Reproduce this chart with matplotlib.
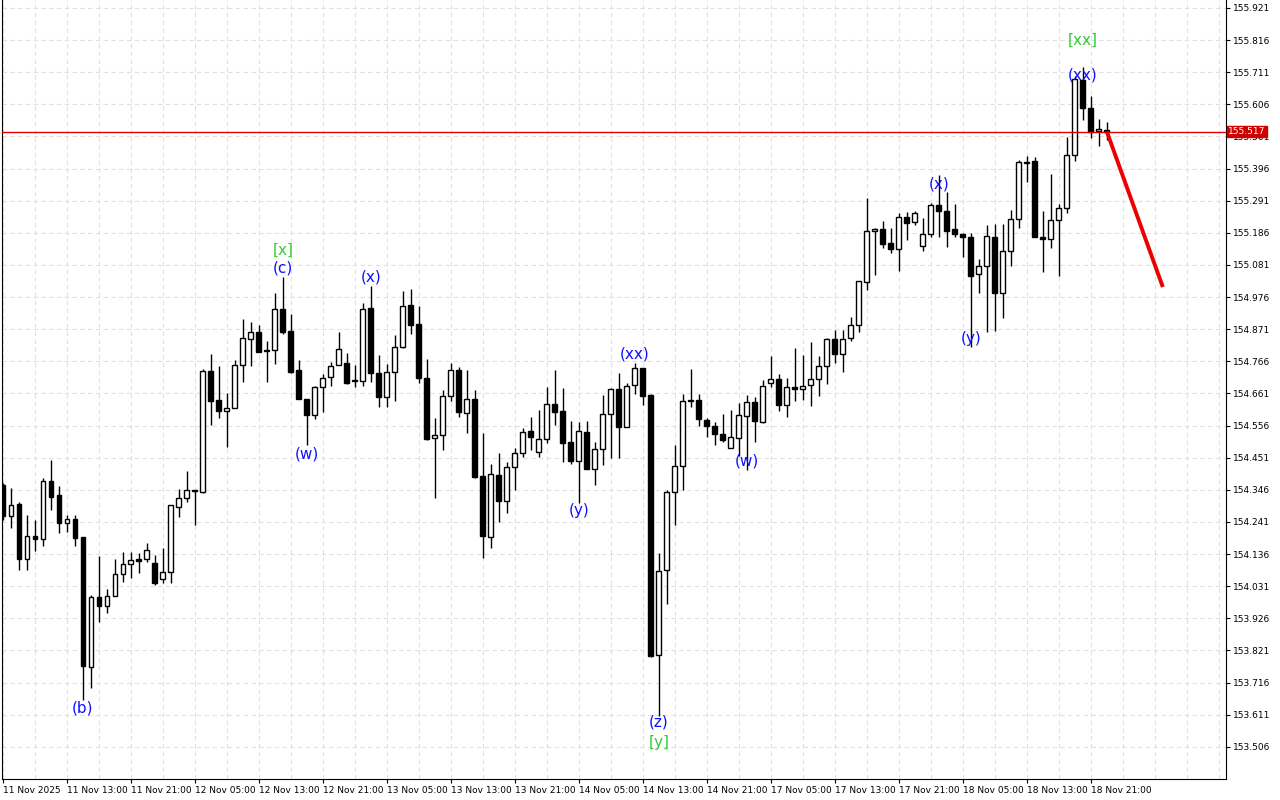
import matplotlib
matplotlib.use("Agg")
import matplotlib.pyplot as plt
import numpy as np

opens = [154.362,154.261,154.300,154.120,154.195,154.186,154.375,154.329,154.238,154.251,
 154.192,153.767,153.996,153.967,153.999,154.071,154.104,154.120,154.120,154.107,
 154.055,154.078,154.290,154.320,154.346,154.339,154.735,154.640,154.604,154.614,
 154.754,154.839,154.862,154.803,154.803,154.937,154.865,154.738,154.643,154.591,
 154.682,154.715,154.754,154.761,154.705,154.702,154.940,154.728,154.650,154.731,
 154.813,154.950,154.888,154.712,154.516,154.525,154.653,154.738,154.597,154.643,
 154.391,154.192,154.395,154.310,154.421,154.467,154.539,154.470,154.512,154.627,
 154.604,154.503,154.440,154.535,154.414,154.480,154.594,154.676,154.552,154.689,
 154.744,154.656,153.806,154.084,154.339,154.424,154.640,154.640,154.574,154.555,
 154.529,154.483,154.516,154.588,154.633,154.568,154.695,154.708,154.623,154.682,
 154.676,154.689,154.708,154.751,154.839,154.790,154.842,154.885,155.025,155.192,
 155.199,155.153,155.133,155.238,155.222,155.143,155.182,155.277,155.257,155.199,
 155.182,155.172,155.052,155.078,155.172,154.990,155.127,155.231,155.418,155.421,
 155.172,155.166,155.228,155.267,155.440,155.686,155.594,155.519,155.522]
highs = [154.369,154.352,154.306,154.264,154.248,154.385,154.444,154.359,154.264,154.264,
 154.192,154.003,154.130,154.022,154.120,154.143,154.143,154.140,154.172,154.133,
 154.156,154.297,154.349,154.408,154.346,154.741,154.790,154.751,154.663,154.771,
 154.904,154.895,154.885,154.833,154.990,155.042,154.921,154.771,154.643,154.686,
 154.725,154.764,154.862,154.793,154.754,154.957,155.012,154.787,154.757,154.852,
 154.996,155.003,154.947,154.774,154.581,154.672,154.761,154.748,154.738,154.672,
 154.532,154.431,154.467,154.437,154.483,154.548,154.584,154.607,154.682,154.738,
 154.679,154.571,154.568,154.571,154.503,154.656,154.679,154.728,154.695,154.761,
 154.744,154.659,154.140,154.346,154.493,154.659,154.741,154.659,154.581,154.568,
 154.594,154.607,154.630,154.656,154.650,154.705,154.784,154.725,154.712,154.810,
 154.787,154.829,154.784,154.842,154.869,154.869,154.911,155.029,155.300,155.202,
 155.225,155.202,155.251,155.254,155.257,155.235,155.284,155.375,155.320,155.280,
 155.186,155.186,155.101,155.212,155.215,155.215,155.261,155.424,155.437,155.434,
 155.257,155.378,155.280,155.499,155.699,155.728,155.633,155.558,155.548]
lows = [154.248,154.222,154.084,154.084,154.146,154.163,154.280,154.205,154.208,154.163,
 153.659,153.699,153.914,153.944,153.999,154.045,154.058,154.074,154.110,154.035,
 154.042,154.042,154.257,154.306,154.231,154.336,154.558,154.581,154.486,154.614,
 154.699,154.751,154.797,154.699,154.757,154.856,154.728,154.643,154.493,154.578,
 154.601,154.686,154.754,154.692,154.682,154.686,154.699,154.617,154.617,154.637,
 154.810,154.856,154.695,154.509,154.320,154.476,154.637,154.584,154.532,154.385,
 154.123,154.156,154.241,154.271,154.346,154.454,154.476,154.454,154.499,154.558,
 154.437,154.431,154.303,154.414,154.362,154.427,154.450,154.450,154.552,154.659,
 154.623,153.800,153.607,153.973,154.231,154.346,154.617,154.555,154.519,154.493,
 154.503,154.483,154.457,154.411,154.503,154.565,154.682,154.604,154.584,154.637,
 154.640,154.620,154.653,154.692,154.761,154.731,154.833,154.862,154.999,155.048,
 155.137,155.120,155.061,155.163,155.212,155.127,155.172,155.172,155.140,155.172,
 155.107,154.813,154.990,154.862,154.865,154.908,155.078,155.202,155.352,155.172,
 155.058,155.137,155.045,155.251,155.421,155.555,155.496,155.470,155.489]
closes = [154.261,154.297,154.120,154.195,154.186,154.375,154.323,154.238,154.251,154.189,
 153.771,153.996,153.967,153.999,154.071,154.104,154.117,154.114,154.150,154.042,
 154.078,154.297,154.320,154.346,154.342,154.735,154.637,154.604,154.614,154.754,
 154.842,154.862,154.797,154.800,154.937,154.862,154.731,154.643,154.591,154.682,
 154.712,154.751,154.806,154.695,154.702,154.937,154.728,154.650,154.731,154.813,
 154.947,154.885,154.712,154.512,154.525,154.653,154.738,154.601,154.643,154.388,
 154.195,154.398,154.310,154.421,154.467,154.535,154.519,154.512,154.627,154.601,
 154.499,154.440,154.539,154.414,154.480,154.594,154.676,154.552,154.686,154.744,
 154.653,153.803,154.081,154.339,154.424,154.637,154.637,154.578,154.555,154.529,
 154.509,154.519,154.591,154.633,154.571,154.686,154.708,154.623,154.682,154.676,
 154.686,154.708,154.751,154.839,154.790,154.839,154.885,155.029,155.192,155.199,
 155.150,155.133,155.238,155.218,155.251,155.182,155.277,155.257,155.192,155.182,
 155.172,155.045,155.078,155.176,154.990,155.127,155.231,155.418,155.414,155.172,
 155.166,155.228,155.267,155.440,155.689,155.594,155.516,155.525,155.517]

xtick_labels = ["11 Nov 2025","11 Nov 13:00","11 Nov 21:00","12 Nov 05:00","12 Nov 13:00",
 "12 Nov 21:00","13 Nov 05:00","13 Nov 13:00","13 Nov 21:00","14 Nov 05:00","14 Nov 13:00",
 "14 Nov 21:00","17 Nov 05:00","17 Nov 13:00","17 Nov 21:00","18 Nov 05:00","18 Nov 13:00",
 "18 Nov 21:00"]
ytick_values = [153.506,153.611,153.716,153.821,153.926,154.031,154.136,154.241,154.346,
 154.451,154.556,154.661,154.766,154.871,154.976,155.081,155.186,155.291,155.396,155.501,
 155.606,155.711,155.816,155.921]

wave_labels = [("(b)",10,153.633,"blue"),("[x]",35,155.130,"green"),("(c)",35,155.071,"blue"),
 ("(w)",38,154.463,"blue"),("(x)",46,155.042,"blue"),("(y)",72,154.277,"blue"),
 ("(xx)",79,154.790,"blue"),("(z)",82,153.588,"blue"),("[y]",82,153.519,"green"),
 ("(w)",93,154.441,"blue"),("(x)",117,155.346,"blue"),("(y)",121,154.842,"blue"),
 ("(xx)",135,155.702,"blue"),("[xx]",135,155.816,"green")]
current_price = 155.517
forecast_x = [138, 145]
forecast_y = [155.517, 155.009]

fig = plt.figure(figsize=(12.8, 8), dpi=100)
ax = fig.add_axes([2/1280, 21/800, 1224/1280, 779/800])
n = len(opens)
x = np.arange(n)
o = np.array(opens); c = np.array(closes); h = np.array(highs); l = np.array(lows)

for k in range(0, 160, 4):
    ax.axvline(k, color="#e0e0e0", ls=(0, (4, 3)), lw=0.8, zorder=0)
for v in ytick_values:
    ax.axhline(v, color="#e0e0e0", ls=(0, (4, 3)), lw=0.8, zorder=0)

ax.vlines(x, l, h, color="black", lw=1, zorder=2)
up = c >= o
bot = np.minimum(o, c); hgt = np.maximum(np.abs(c - o), 0.002)
ax.bar(x[up], hgt[up], bottom=bot[up], width=0.62, color="white", edgecolor="black", lw=1, zorder=3)
ax.bar(x[~up], hgt[~up], bottom=bot[~up], width=0.62, color="black", edgecolor="black", lw=1, zorder=3)

ax.axhline(current_price, color="#e00000", lw=1, zorder=4)
ax.plot(forecast_x, forecast_y, color="#ee0000", lw=2.8, zorder=5, solid_capstyle="butt")

colmap = {"blue": "#1010ff", "green": "#33cc33"}
for t, xi, yi, col in wave_labels:
    ax.text(xi, yi, t, color=colmap[col], fontsize=11, ha="center", va="center", zorder=6)

ax.set_xlim(-0.125, 152.9)
ax.set_ylim(153.401, 155.947)
ax.set_xticks(np.arange(0, 8 * len(xtick_labels), 8))
ax.set_xticklabels(xtick_labels, fontsize=6.5, ha="left")
ax.tick_params(axis="x", length=3, pad=2)
ax.yaxis.tick_right()
ax.set_yticks(ytick_values)
ax.set_yticklabels([f"{v:.3f}" for v in ytick_values], fontsize=6.5)
ax.tick_params(axis="y", length=3, pad=2)
for s in ["top"]:
    ax.spines[s].set_visible(False)
ax.spines["left"].set_color("black")
ax.text(1.002, current_price, f"{current_price:.3f}", transform=ax.get_yaxis_transform(),
        fontsize=6.5, color="white", va="center", ha="left",
        bbox=dict(boxstyle="square,pad=0.15", fc="#d00000", ec="#d00000"), zorder=10, clip_on=False)
fig.savefig("out.png", dpi=100)
